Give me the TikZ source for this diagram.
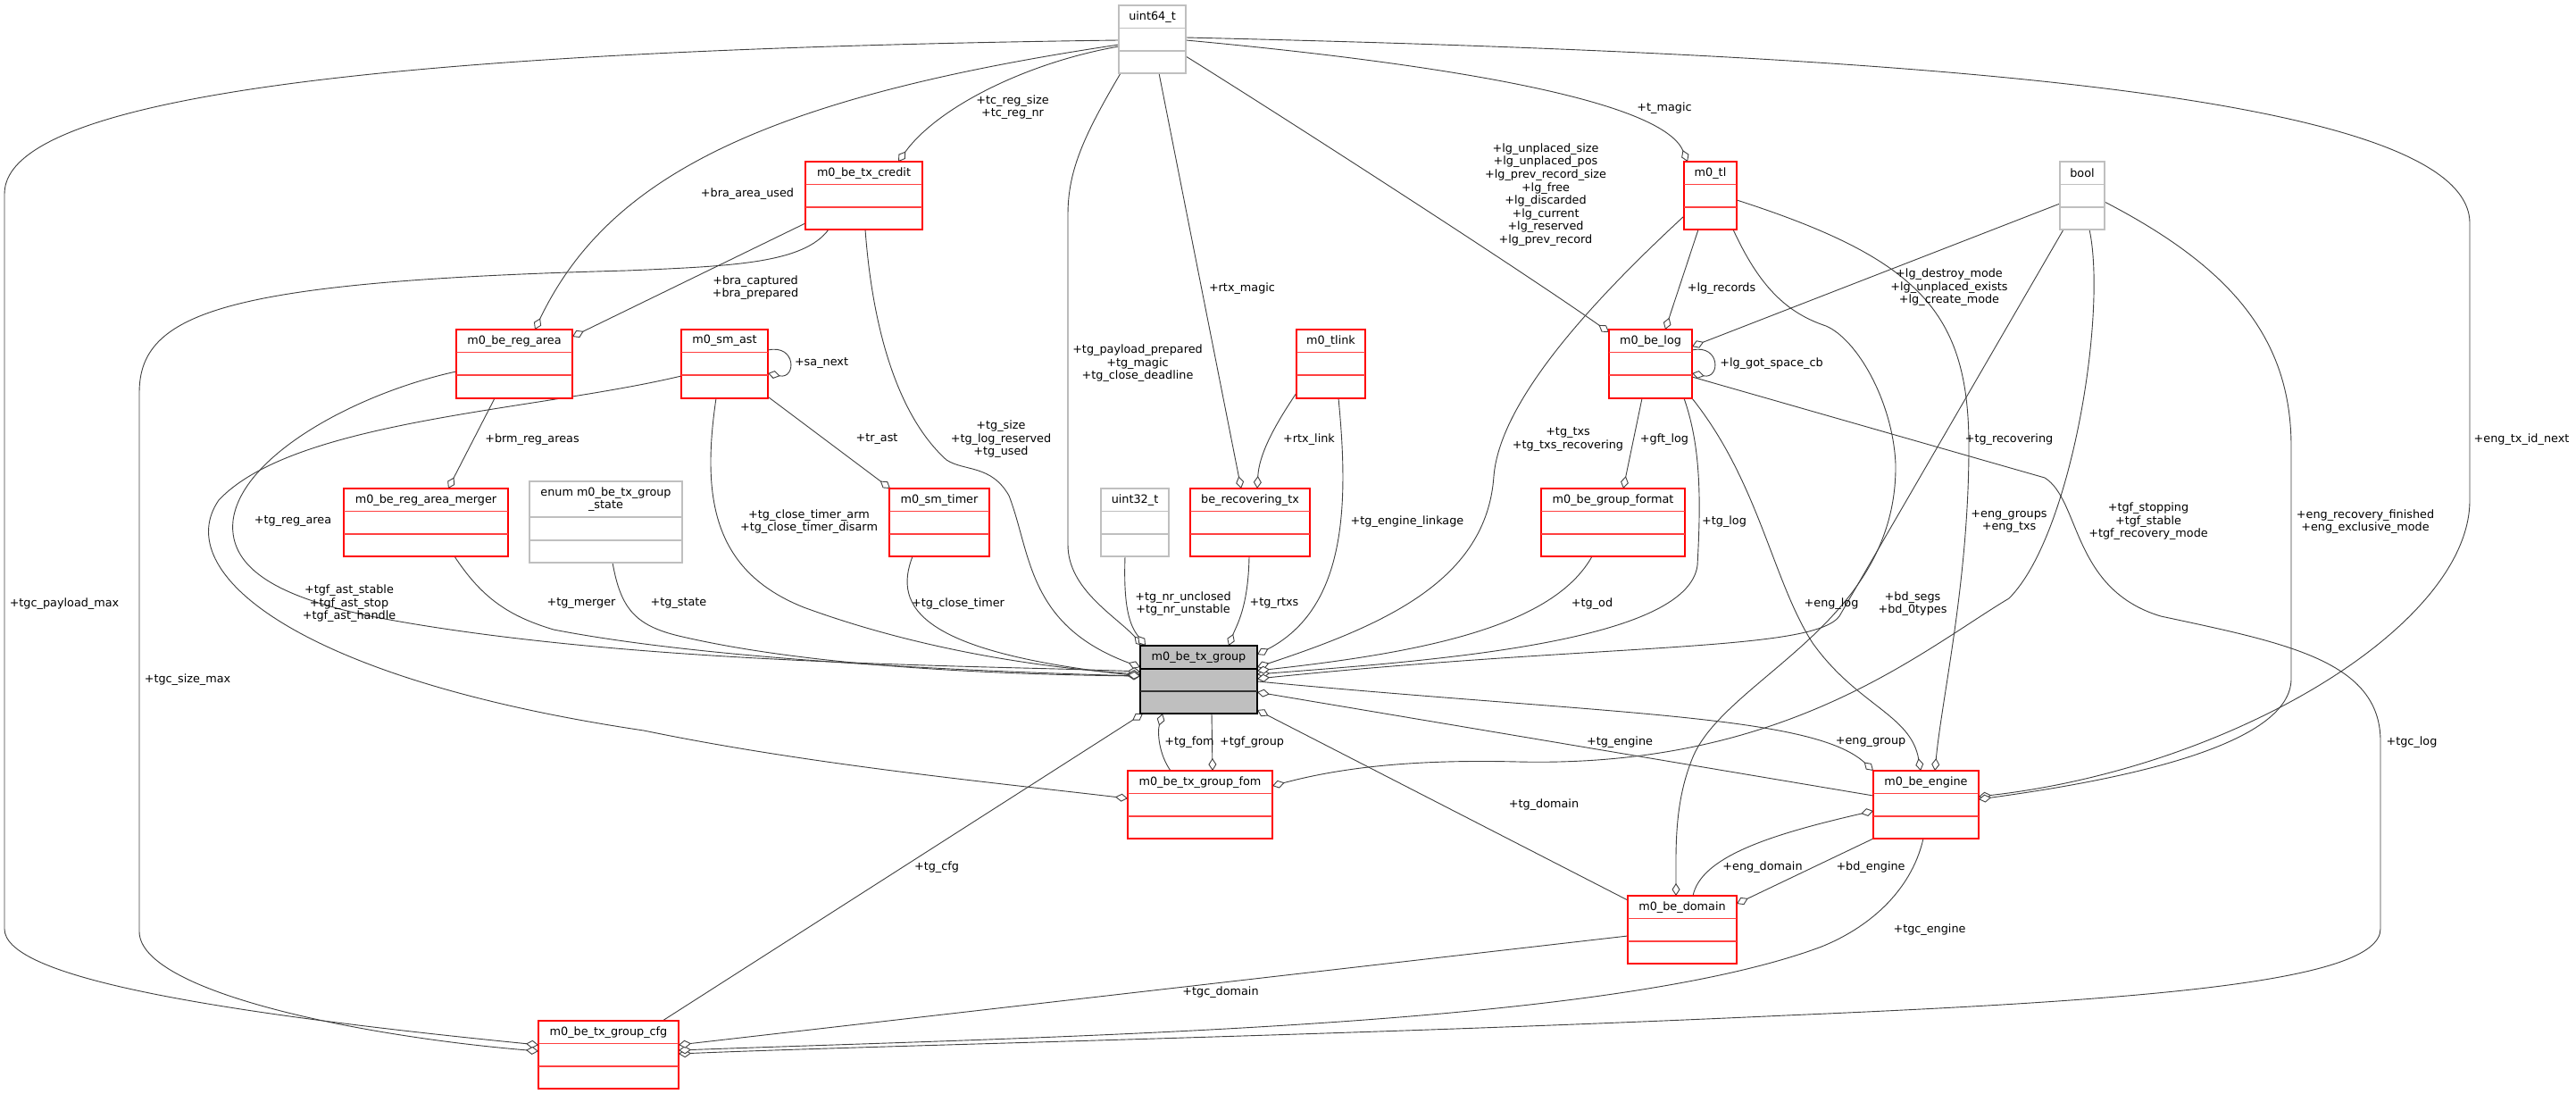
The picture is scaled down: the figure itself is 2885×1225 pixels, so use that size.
\documentclass[tikz,border=0pt]{standalone}
\usepackage{fontspec}
\setmainfont{DejaVu Sans}
\usetikzlibrary{arrows.meta,calc}
\definecolor{edgec}{HTML}{404040}
\definecolor{boxred}{HTML}{FF0000}
\definecolor{sepred}{HTML}{FF4040}
\definecolor{boxgray}{HTML}{BFBFBF}
\definecolor{txfill}{HTML}{BFBFBF}
\pgfdeclarelayer{bg}
\pgfsetlayers{bg,main}
\tikzset{
  lbl/.style={font=\fontsize{12.8}{14.6}\selectfont, align=center, inner sep=0pt, text=black},
  redbox/.style={draw=boxred, line width=1.1pt, fill=white, inner sep=0pt, outer sep=0pt},
  redbox sep/.style={draw=sepred, line width=1.1pt},
  redbox sep2/.style={draw=sepred, line width=1.1pt},
  graybox/.style={draw=boxgray, line width=1.1pt, fill=white, inner sep=0pt, outer sep=0pt},
  graybox sep/.style={draw=boxgray, line width=1.1pt},
  graybox sep2/.style={draw=boxgray, line width=1.1pt},
  txbox/.style={draw=black, line width=1.1pt, fill=txfill, inner sep=0pt, outer sep=0pt},
  txbox sep/.style={draw=black, line width=1.1pt},
  txbox sep2/.style={draw=black!80, line width=2.2pt},
  rel/.style={draw=edgec, line width=0.9pt, -{Diamond[length=14pt,width=9pt,fill=white,line width=0.9pt]}},
}
\newcommand{\cls}[9]{%
  \pgfmathsetmacro{\clsw}{#4-#2}%
  \pgfmathsetmacro{\clsh}{#5-#3}%
  \node[#7, anchor=north west, minimum width=\clsw pt, minimum height=\clsh pt] (#1) at (#2,#3) {};
  \draw[#7 sep] ($(#1.north west)+(0,#8)$) -- ($(#1.north east)+(0,#8)$);
  \draw[#7 sep2] ($(#1.north west)+(0,#9)$) -- ($(#1.north east)+(0,#9)$);
  \node[lbl] (#1-t) at ($(#1.north)+(0,#8/2)$) {#6};
}
\begin{document}
\begin{tikzpicture}[x=1pt,y=-1pt]
\useasboundingbox (0,0) rectangle (2885,1225);
\begin{pgfonlayer}{bg}
\fill[white] (0,0) rectangle (2885,1225);
\end{pgfonlayer}
% classes
\cls{u64}{1253}{6}{1328}{82}{uint64\_t}{graybox}{25.5}{51}
\cls{credit}{902}{181}{1033}{257}{m0\_be\_tx\_credit}{redbox}{25.5}{51}
\cls{tl}{1886}{181}{1945}{257}{m0\_tl}{redbox}{25.5}{51}
\cls{bool}{2307}{181}{2357}{257}{bool}{graybox}{25.5}{51}
\cls{rega}{511}{369}{641}{446}{m0\_be\_reg\_area}{redbox}{25.5}{51}
\cls{ast}{763}{369}{860}{446}{m0\_sm\_ast}{redbox}{25.5}{51}
\cls{tlink}{1452}{369}{1529}{446}{m0\_tlink}{redbox}{25.5}{51}
\cls{log}{1802}{369}{1895}{446}{m0\_be\_log}{redbox}{25.5}{51}
\cls{merger}{385}{547}{569}{623}{m0\_be\_reg\_area\_merger}{redbox}{25.5}{51}
\cls{enum}{593}{539}{764}{630}{enum m0\_be\_tx\_group\\\_state}{graybox}{40}{66}
\cls{timer}{996}{547}{1108}{623}{m0\_sm\_timer}{redbox}{25.5}{51}
\cls{u32}{1233}{547}{1309}{623}{uint32\_t}{graybox}{25.5}{51}
\cls{rtx}{1333}{547}{1467}{623}{be\_recovering\_tx}{redbox}{25.5}{51}
\cls{fmt}{1726}{547}{1887}{623}{m0\_be\_group\_format}{redbox}{25.5}{51}
\cls{tx}{1277}{723}{1408}{799}{m0\_be\_tx\_group}{txbox}{26}{51}
\cls{fom}{1263}{863}{1425}{939}{m0\_be\_tx\_group\_fom}{redbox}{25.5}{51}
\cls{domain}{1823}{1003}{1945}{1079}{m0\_be\_domain}{redbox}{25.5}{51}
\cls{engine}{2098}{863}{2216}{939}{m0\_be\_engine}{redbox}{25.5}{51}
\cls{cfg}{603}{1143}{760}{1219}{m0\_be\_tx\_group\_cfg}{redbox}{25.5}{51}
% connectors
\begin{pgfonlayer}{bg}
\draw[rel] ($(u64.north west)+(0,46)$) .. controls (1150,70) and (1050,120) .. ($(credit.north west)+(104,0)$);
\draw[rel] ($(u64.north west)+(0,44)$) .. controls (850,110) and (680,200) .. ($(rega.north west)+(88,0)$);
\draw[rel] ($(u64.north west)+(0,39)$) .. controls (500,55) and (5,100) .. (5,217) -- (5,1040) .. controls (5,1090) and (200,1130) .. ($(cfg.north west)+(0,27)$);
\draw[rel] ($(credit.north west)+(26,76)$) .. controls (900,295) and (820,298) .. (702,303) .. controls (250,315) and (156,350) .. (156,440) -- (156,1043) .. controls (156,1110) and (400,1160) .. ($(cfg.north west)+(0,34)$);
\draw[rel] ($(u64.north west)+(2,76)$) .. controls (1215,150) and (1196,190) .. (1196,240) -- (1196,610) .. controls (1196,660) and (1250,690) .. ($(tx.north west)+(3,0)$);
\draw[rel] ($(u64.north west)+(45,76)$) -- ($(rtx.north west)+(57,0)$);
\draw[rel] ($(u64.north west)+(75,57)$) .. controls (1420,120) and (1700,300) .. ($(log.north west)+(0,3)$);
\draw[rel] ($(u64.north west)+(75,39)$) .. controls (1600,70) and (1860,110) .. ($(tl.north west)+(4,0)$);
\draw[rel] ($(u64.north west)+(75,36)$) .. controls (2100,60) and (2766,100) .. (2766,250) -- (2766,560) .. controls (2766,700) and (2500,860) .. ($(engine.north west)+(118,29)$);
\draw[rel] ($(credit.north west)+(0,69)$) -- ($(rega.north west)+(130,8)$);
\draw[rel] ($(credit.north west)+(67,76)$) .. controls (978,380) and (1010,470) .. (1060,515) .. controls (1080,528) and (1110,520) .. (1130,555) .. controls (1155,620) and (1150,700) .. ($(tx.north west)+(0,24)$);
\draw[rel] ($(rega.north west)+(43,77)$) -- ($(merger.north west)+(117,0)$);
\draw[rel] ($(rega.north west)+(0,47)$) .. controls (400,440) and (270,510) .. (261,583) .. controls (255,640) and (320,670) .. (415,690) .. controls (700,745) and (1100,745) .. ($(tx.north west)+(0,29)$);
\draw[rel] ($(ast.north west)+(0,52)$) .. controls (600,460) and (330,470) .. (245,560) .. controls (190,640) and (330,760) .. (721,818) .. controls (900,855) and (1100,875) .. ($(fom.north west)+(0,31)$);
\draw[rel] ($(ast.north west)+(97,23)$) .. controls (892,385) and (892,425) .. ($(ast.north west)+(97,49)$);
\draw[rel] ($(ast.north west)+(98,76)$) -- ($(timer.north west)+(1,0)$);
\draw[rel] ($(ast.north west)+(39,77)$) .. controls (785,560) and (800,640) .. (900,680) .. controls (1050,735) and (1200,750) .. ($(tx.north west)+(0,32)$);
\draw[rel] ($(tlink.north west)+(0,71)$) .. controls (1425,480) and (1410,510) .. ($(rtx.north west)+(75,0)$);
\draw[rel] ($(tlink.north west)+(47,77)$) .. controls (1510,560) and (1510,680) .. ($(tx.north west)+(131,10)$);
\draw[rel] ($(log.north west)+(93,23)$) .. controls (1927,385) and (1927,425) .. ($(log.north west)+(93,49)$);
\draw[rel] ($(log.north west)+(37,77)$) -- ($(fmt.north west)+(92,0)$);
\draw[rel] ($(log.north west)+(84,77)$) .. controls (1905,500) and (1905,560) .. (1901,633) .. controls (1890,720) and (1600,740) .. ($(tx.north west)+(131,32)$);
\draw[rel] ($(log.north west)+(93,77)$) .. controls (1970,540) and (1985,650) .. (2030,720) .. controls (2080,790) and (2140,800) .. ($(engine.north west)+(53,0)$);
\draw[rel] ($(log.north west)+(93,53)$) -- (2290,535) .. controls (2330,560) and (2320,660) .. (2420,690) .. controls (2560,720) and (2666,740) .. (2666,830) -- (2666,1040) .. controls (2666,1100) and (2400,1120) .. (2000,1137) .. controls (1500,1160) and (1000,1170) .. ($(cfg.north west)+(157,37)$);
\draw[rel] ($(tl.north west)+(16,76)$) -- ($(log.north west)+(63,0)$);
\draw[rel] ($(tl.north west)+(0,61)$) .. controls (1780,340) and (1680,450) .. (1673,533) .. controls (1665,650) and (1550,700) .. ($(tx.north west)+(131,24)$);
\draw[rel] ($(tl.north west)+(55,76)$) .. controls (1970,320) and (2000,350) .. (2045,365) .. controls (2080,380) and (2120,450) .. (2123,520) .. controls (2125,700) and (1930,760) .. (1895,850) .. controls (1875,900) and (1877,950) .. ($(domain.north west)+(54,0)$);
\draw[rel] ($(tl.north west)+(59,43)$) .. controls (2150,290) and (2205,350) .. (2205,500) .. controls (2205,650) and (2175,780) .. ($(engine.north west)+(69,0)$);
\draw[rel] ($(bool.north west)+(0,47)$) -- ($(log.north west)+(93,19)$);
\draw[rel] ($(bool.north west)+(4,76)$) -- (2060,690) .. controls (2030,730) and (1800,720) .. ($(tx.north west)+(131,37)$);
\draw[rel] ($(bool.north west)+(33,76)$) .. controls (2360,350) and (2320,600) .. (2250,670) .. controls (2150,730) and (2000,860) .. (1700,853) .. controls (1580,850) and (1500,860) .. ($(fom.north west)+(162,17)$);
\draw[rel] ($(bool.north west)+(50,45)$) .. controls (2500,300) and (2566,380) .. (2566,500) -- (2566,760) .. controls (2566,830) and (2400,870) .. ($(engine.north west)+(118,32)$);
\draw[rel] ($(engine.north west)+(0,28)$) -- ($(tx.north west)+(131,52)$);
\draw[rel] ($(tx.north west)+(131,40)$) .. controls (1800,800) and (2030,800) .. (engine.north west);
\draw[rel] ($(engine.north west)+(0,76)$) -- ($(domain.north west)+(122,9)$);
\draw[rel] ($(domain.north west)+(73,0)$) .. controls (1905,960) and (1980,935) .. ($(engine.north west)+(0,45)$);
\draw[rel] ($(engine.north west)+(56,76)$) .. controls (2140,1000) and (2090,1040) .. (2040,1060) .. controls (1800,1150) and (1200,1160) .. ($(cfg.north west)+(157,33)$);
\draw[rel] ($(domain.north west)+(0,45)$) -- ($(cfg.north west)+(157,27)$);
\draw[rel] ($(domain.north west)+(0,5)$) -- ($(tx.north west)+(131,72)$);
\draw[rel] ($(cfg.north west)+(139,0)$) -- ($(tx.north west)+(3,76)$);
\draw[rel] ($(fom.north west)+(48,0)$) .. controls (1298,845) and (1296,820) .. ($(tx.north west)+(25,76)$);
\draw[rel] ($(tx.north west)+(80,76)$) -- ($(fom.north west)+(95,0)$);
\draw[rel] ($(merger.north west)+(124,76)$) .. controls (540,670) and (570,690) .. (620,705) .. controls (800,740) and (1100,752) .. ($(tx.north west)+(0,34)$);
\draw[rel] ($(enum.north west)+(93,91)$) .. controls (695,680) and (710,700) .. (760,712) .. controls (900,745) and (1100,755) .. ($(tx.north west)+(0,34)$);
\draw[rel] ($(timer.north west)+(26,76)$) .. controls (1000,680) and (1030,730) .. ($(tx.north west)+(0,34)$);
\draw[rel] ($(u32.north west)+(27,76)$) .. controls (1258,680) and (1265,700) .. ($(tx.north west)+(6,0)$);
\draw[rel] ($(rtx.north west)+(66,76)$) .. controls (1398,680) and (1385,700) .. ($(tx.north west)+(99,0)$);
\draw[rel] ($(fmt.north west)+(57,76)$) .. controls (1740,700) and (1600,730) .. ($(tx.north west)+(131,28)$);
\end{pgfonlayer}
% labels
\node[lbl] (l1) at (1134,120) {+tc\_reg\_size\\+tc\_reg\_nr};
\node[lbl] (l2) at (837,217) {+bra\_area\_used};
\node[lbl] (l3) at (72,676) {+tgc\_payload\_max};
\node[lbl] (l4) at (210,761) {+tgc\_size\_max};
\node[lbl] (l5) at (1274,407) {+tg\_payload\_prepared\\+tg\_magic\\+tg\_close\_deadline};
\node[lbl] (l6) at (1391,323) {+rtx\_magic};
\node[lbl] (l7) at (1731,218) {+lg\_unplaced\_size\\+lg\_unplaced\_pos\\+lg\_prev\_record\_size\\+lg\_free\\+lg\_discarded\\+lg\_current\\+lg\_reserved\\+lg\_prev\_record};
\node[lbl] (l8) at (1864,121) {+t\_magic};
\node[lbl] (l9) at (2824,492) {+eng\_tx\_id\_next};
\node[lbl] (l10) at (846,322) {+bra\_captured\\+bra\_prepared};
\node[lbl] (l11) at (1121,492) {+tg\_size\\+tg\_log\_reserved\\+tg\_used};
\node[lbl] (l12) at (596,492) {+brm\_reg\_areas};
\node[lbl] (l13) at (328,584) {+tg\_reg\_area};
\node[lbl] (l14) at (391,676) {+tgf\_ast\_stable\\+tgf\_ast\_stop\\+tgf\_ast\_handle};
\node[lbl] (l15) at (920,407) {+sa\_next};
\node[lbl] (l16) at (982,492) {+tr\_ast};
\node[lbl] (l17) at (906,584) {+tg\_close\_timer\_arm\\+tg\_close\_timer\_disarm};
\node[lbl] (l18) at (1466,492) {+rtx\_link};
\node[lbl] (l19) at (1576,584) {+tg\_engine\_linkage};
\node[lbl] (l20) at (1984,407) {+lg\_got\_space\_cb};
\node[lbl] (l21) at (1864,492) {+gft\_log};
\node[lbl] (l22) at (1931,584) {+tg\_log};
\node[lbl] (l23) at (2051,676) {+eng\_log};
\node[lbl] (l24) at (2701,831) {+tgc\_log};
\node[lbl] (l25) at (1928,323) {+lg\_records};
\node[lbl] (l26) at (1756,492) {+tg\_txs\\+tg\_txs\_recovering};
\node[lbl] (l27) at (2142,676) {+bd\_segs\\+bd\_0types};
\node[lbl] (l28) at (2250,584) {+eng\_groups\\+eng\_txs};
\node[lbl] (l29) at (2183,322) {+lg\_destroy\_mode\\+lg\_unplaced\_exists\\+lg\_create\_mode};
\node[lbl] (l30) at (2250,492) {+tg\_recovering};
\node[lbl] (l31) at (2406,584) {+tgf\_stopping\\+tgf\_stable\\+tgf\_recovery\_mode};
\node[lbl] (l32) at (2649,584) {+eng\_recovery\_finished\\+eng\_exclusive\_mode};
\node[lbl] (l33) at (1814,831) {+tg\_engine};
\node[lbl] (l34) at (2095,831) {+eng\_group};
\node[lbl] (l35) at (2095,971) {+bd\_engine};
\node[lbl] (l36) at (1974,971) {+eng\_domain};
\node[lbl] (l37) at (2161,1041) {+tgc\_engine};
\node[lbl] (l38) at (1367,1111) {+tgc\_domain};
\node[lbl] (l39) at (1729,901) {+tg\_domain};
\node[lbl] (l40) at (1049,971) {+tg\_cfg};
\node[lbl] (l41) at (1332,831) {+tg\_fom};
\node[lbl] (l42) at (1402,831) {+tgf\_group};
\node[lbl] (l43) at (651,676) {+tg\_merger};
\node[lbl] (l44) at (760,676) {+tg\_state};
\node[lbl] (l45) at (1073,676) {+tg\_close\_timer};
\node[lbl] (l46) at (1325,676) {+tg\_nr\_unclosed\\+tg\_nr\_unstable};
\node[lbl] (l47) at (1427,676) {+tg\_rtxs};
\node[lbl] (l48) at (1783,676) {+tg\_od};
\end{tikzpicture}
\end{document}
